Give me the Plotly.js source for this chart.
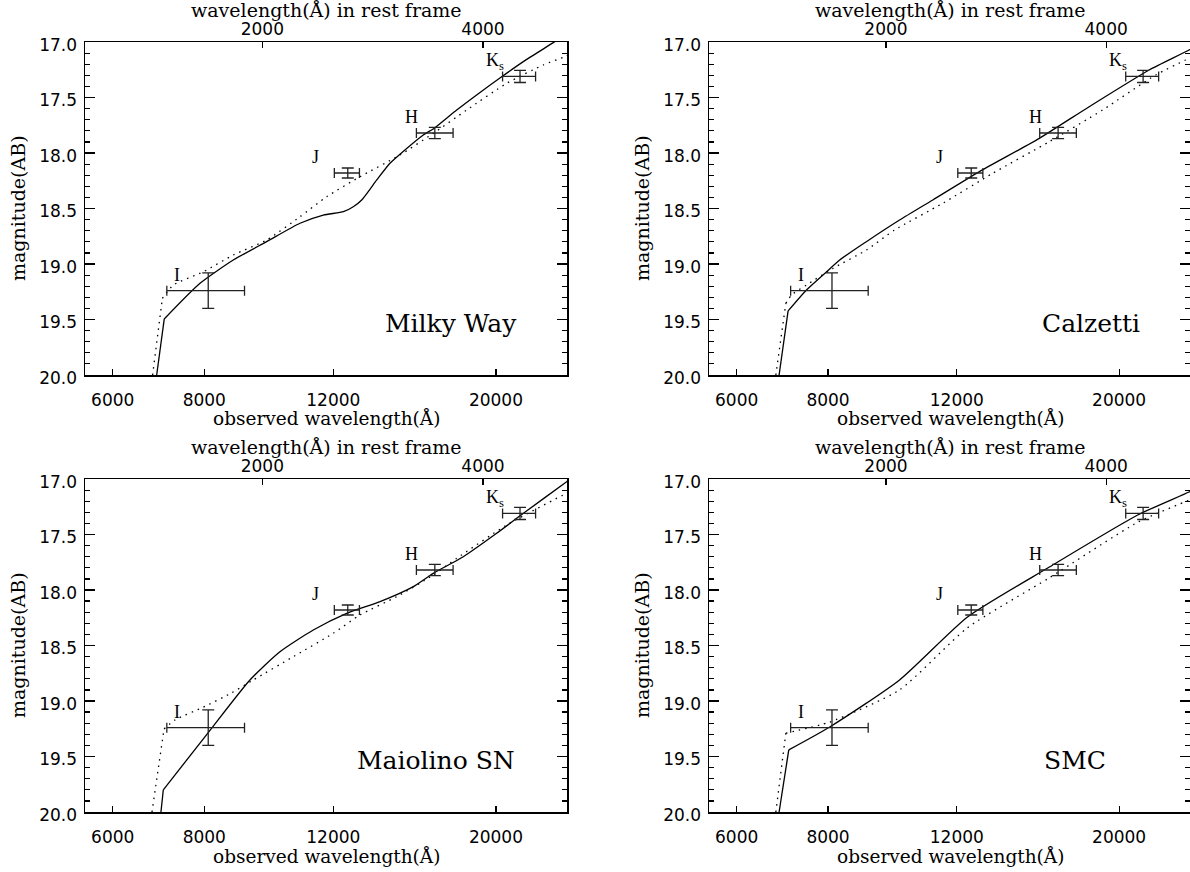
<!DOCTYPE html>
<html>
<head>
<meta charset="utf-8">
<script src="https://cdn.plot.ly/plotly-3.0.1.min.js"></script>
<style>html,body{margin:0;padding:0;background:#fff;}#chart{width:1190px;height:872px;}</style>
</head>
<body>
<div id="chart"></div>
<script>
// ---------- data ----------
const filterNames = ['I', 'J', 'H', 'K<sub>s</sub>'];
const obsWave = [8100, 12556, 16505, 21570];
const waveErrPlus = [978, 469, 975, 1080];
const waveErrMinus = [988, 519, 928, 1150];
const magAB = [19.24, 18.18, 17.82, 17.31];
const magErr = [0.16, 0.045, 0.05, 0.055];

const panelNames = ['Milky Way', 'Calzetti', 'Maiolino SN', 'SMC'];

const mwSolidX = [6889, 7055, 7893, 8763, 9731, 10806, 11627, 12386, 12775, 13118, 13753, 14337, 15025, 15918, 16512, 17679, 18822, 20361, 21795, 23945, 25500];
const mwSolidY = [20.0, 19.495, 19.174, 18.964, 18.799, 18.633, 18.559, 18.529, 18.484, 18.423, 18.243, 18.093, 17.973, 17.838, 17.772, 17.613, 17.477, 17.313, 17.177, 17.006, 16.89];
const mwDotX = [6801, 7013, 7258, 7975, 8763, 9731, 10806, 11750, 13048, 14791, 16424, 18239, 20689, 23209, 24839, 25500];
const mwDotY = [20.0, 19.31, 19.19, 19.07, 18.919, 18.784, 18.574, 18.394, 18.214, 18.018, 17.823, 17.613, 17.372, 17.207, 17.132, 17.10];

const calSolidX = [6858, 7055, 7475, 7965, 8299, 9026, 10020, 11125, 12885, 15557, 18200, 21985, 24920, 25500];
const calSolidY = [20.0, 19.423, 19.234, 19.069, 18.964, 18.799, 18.604, 18.423, 18.168, 17.868, 17.583, 17.252, 17.072, 17.03];
const calDotX = [6788, 7005, 7131, 7475, 8126, 9026, 9864, 11479, 13433, 16056, 18977, 22443, 24660, 25500];
const calDotY = [20.0, 19.354, 19.279, 19.189, 19.039, 18.874, 18.694, 18.453, 18.183, 17.898, 17.613, 17.297, 17.162, 17.12];

const maiSolidX = [6982, 7034, 8100, 9234, 10146, 11267, 12513, 13896, 15428, 16424, 18050, 20043, 21800, 24976, 25500];
const maiSolidY = [20.0, 19.80, 19.285, 18.811, 18.556, 18.360, 18.210, 18.105, 17.970, 17.850, 17.700, 17.489, 17.309, 17.024, 16.98];
const maiDotX = [6788, 7050, 7300, 7950, 8700, 9329, 10579, 11997, 13048, 14640, 16424, 17679, 20689, 24976, 25500];
const maiDotY = [20.0, 19.252, 19.17, 19.06, 18.93, 18.811, 18.601, 18.390, 18.225, 18.060, 17.865, 17.715, 17.414, 17.128, 17.10];

const smcSolidX = [6858, 7070, 8043, 10020, 12411, 16056, 21206, 24920, 25500];
const smcSolidY = [20.0, 19.44, 19.234, 18.81, 18.243, 17.793, 17.324, 17.117, 17.08];
const smcDotX = [6788, 7005, 8043, 10020, 12411, 16056, 21206, 24920, 25500];
const smcDotY = [20.0, 19.29, 19.19, 18.90, 18.34, 17.89, 17.39, 17.19, 17.16];

const bottomTickVals = [6000, 8000, 12000, 20000];
const bottomTickText = ['6000', '8000', '12000', '20000'];
const topTickVals = [2000, 4000];
const topTickText = ['2000', '4000'];
const restFactor = 4.8; // 1+z
const obsRange = [5500, 25000];

const modelSolid = [[mwSolidX, mwSolidY], [calSolidX, calSolidY], [maiSolidX, maiSolidY], [smcSolidX, smcSolidY]];
const modelDot = [[mwDotX, mwDotY], [calDotX, calDotY], [maiDotX, maiDotY], [smcDotX, smcDotY]];

// ---------- layout config ----------
const W = 1190, H = 872;
const panelLeft = [85, 709, 85, 709];
const panelTop = [42, 42, 479, 479];
const panelW = 482, panelH = 333;
const nameRight = [434, 433, 432, 399];
const labelPos = [[7336, 19.10], [11362, 18.033], [15362, 17.678], [19942, 17.18]];

const serif = 'DejaVu Serif';
const tickFont = {family: 'DejaVu Sans', size: 17, color: '#000'};

const data = [];
const layout = {
  width: W, height: H,
  margin: {l: 0, r: 0, t: 0, b: 0, pad: 0},
  paper_bgcolor: '#fff', plot_bgcolor: '#fff',
  showlegend: false,
  annotations: []
};

const lg = Math.log10;
// the model curve: a straight steep cut-off segment, then a smooth curve
function addCurve(xs, ys, xn, yn, dash) {
  const base = {type: 'scatter', mode: 'lines', xaxis: xn, yaxis: yn, hoverinfo: 'skip'};
  const ln = {color: '#000', width: 1.3};
  if (dash) ln.dash = dash;
  data.push(Object.assign({}, base, {x: xs.slice(0, 2), y: ys.slice(0, 2), line: Object.assign({}, ln)}));
  data.push(Object.assign({}, base, {x: xs.slice(1), y: ys.slice(1), line: Object.assign({}, ln, {shape: 'spline', smoothing: 0.6})}));
}

for (let p = 0; p < 4; p++) {
  const xi = p + 1, ti = p + 5;
  const xn = xi === 1 ? 'x' : 'x' + xi;
  const yn = xi === 1 ? 'y' : 'y' + xi;
  const tn = 'x' + ti;
  const xk = xi === 1 ? 'xaxis' : 'xaxis' + xi;
  const yk = xi === 1 ? 'yaxis' : 'yaxis' + xi;
  const tk = 'xaxis' + ti;
  const L = panelLeft[p], T = panelTop[p];
  const domX = [L / W, Math.min(1, (L + panelW) / W)];
  const domY = [1 - (T + panelH) / H, 1 - T / H];

  layout[xk] = {
    domain: domX, anchor: yn, type: 'log',
    range: [lg(obsRange[0]), lg(obsRange[1])],
    tickmode: 'array', tickvals: bottomTickVals, ticktext: bottomTickText,
    ticks: 'inside', ticklen: 6, tickwidth: 1.2, tickcolor: '#000',
    showline: true, linecolor: '#000', linewidth: 1.5,
    showgrid: false, zeroline: false, mirror: false,
    tickfont: tickFont, ticklabelstandoff: 9
  };
  layout[tk] = {
    domain: domX, anchor: yn, overlaying: xn, side: 'top', type: 'log',
    range: [lg(obsRange[0] / restFactor), lg(obsRange[1] / restFactor)],
    tickmode: 'array', tickvals: topTickVals, ticktext: topTickText,
    ticks: 'inside', ticklen: 6, tickwidth: 1.2, tickcolor: '#000',
    showline: true, linecolor: '#000', linewidth: 1.5,
    showgrid: false, zeroline: false,
    tickfont: tickFont, ticklabelstandoff: -1
  };
  layout[yk] = {
    domain: domY, anchor: xn, range: [20, 17],
    tickmode: 'linear', tick0: 17, dtick: 0.5, tickformat: '.1f',
    ticks: 'inside', ticklen: 10, tickwidth: 1.2, tickcolor: '#000',
    minor: {ticks: 'inside', dtick: 0.1, ticklen: 5, tickwidth: 1.2, tickcolor: '#000', showgrid: false},
    showline: true, linecolor: '#000', linewidth: 1.5, mirror: 'ticks',
    showgrid: false, zeroline: false,
    tickfont: tickFont, ticklabelstandoff: 3, ticklabelshift: -3
  };

  // invisible trace to host rest-frame axis
  data.push({type: 'scatter', x: [], y: [], xaxis: tn, yaxis: yn, hoverinfo: 'skip', showlegend: false});

  addCurve(modelDot[p][0], modelDot[p][1], xn, yn, '1.5px,5px');
  addCurve(modelSolid[p][0], modelSolid[p][1], xn, yn, null);

  data.push({
    type: 'scatter', mode: 'markers', x: obsWave, y: magAB,
    xaxis: xn, yaxis: yn,
    marker: {size: 1, color: 'rgba(0,0,0,0)'},
    error_x: {type: 'data', symmetric: false, array: waveErrPlus, arrayminus: waveErrMinus, width: 5, thickness: 1.3, color: '#222'},
    error_y: {type: 'data', array: magErr, width: 6, thickness: 1.3, color: '#222'}
  });

  // band labels
  for (let i = 0; i < filterNames.length; i++) {
    layout.annotations.push({
      xref: xn, yref: yn, x: lg(labelPos[i][0]), y: labelPos[i][1],
      text: filterNames[i], showarrow: false,
      font: {family: 'Liberation Serif', size: 18, color: '#000'},
      xanchor: 'center', yanchor: 'middle'
    });
  }
  // titles
  layout.annotations.push({
    xref: 'paper', yref: 'paper', x: (L + panelW / 2) / W, y: 1 - (T - 32) / H,
    text: 'wavelength(Å) in rest frame', showarrow: false,
    font: {family: serif, size: 19, color: '#000'}, xanchor: 'center', yanchor: 'middle'
  });
  layout.annotations.push({
    xref: 'paper', yref: 'paper', x: (L + panelW / 2) / W, y: 1 - (T + panelH + 44) / H,
    text: 'observed wavelength(Å)', showarrow: false,
    font: {family: serif, size: 18.5, color: '#000'}, xanchor: 'center', yanchor: 'middle'
  });
  layout.annotations.push({
    xref: 'paper', yref: 'paper', x: (L - 67) / W, y: 1 - (T + 166) / H,
    text: 'magnitude(AB)', showarrow: false, textangle: -90,
    font: {family: serif, size: 19, color: '#000'}, xanchor: 'center', yanchor: 'middle'
  });
  layout.annotations.push({
    xref: 'paper', yref: 'paper', x: (L + nameRight[p]) / W, y: 1 - (T + 281) / H,
    text: panelNames[p], showarrow: false,
    font: {family: serif, size: 25, color: '#000'}, xanchor: 'right', yanchor: 'middle'
  });
}

Plotly.newPlot('chart', data, layout, {displayModeBar: false, staticPlot: true});
</script>
</body>
</html>
